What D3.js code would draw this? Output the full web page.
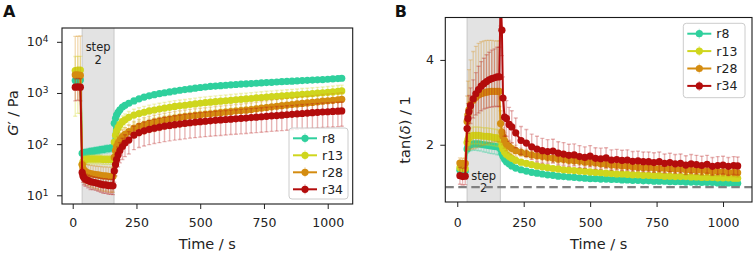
<!DOCTYPE html>
<html>
<head>
<meta charset="utf-8">
<script src="https://cdn.jsdelivr.net/npm/d3@7"></script>
<style>
  body { margin: 0; background: #fff; }
  svg { display: block; font-family: "DejaVu Sans", sans-serif; }
</style>
</head>
<body>
<svg id="chart" width="754" height="254"></svg>
<script>
// sample times (s), shared by every series
const time = [
  10, 20, 30,
  37, 40, 44, 50, 60, 70, 80, 90, 100, 110, 120, 130, 140, 150, 158,
  163, 168, 172, 178, 185, 195, 205, 220,
  240, 260, 280, 300, 320, 340, 360, 380, 400, 420,
  440, 460, 480, 500, 520, 540, 560, 580, 600, 620,
  640, 660, 680, 700, 720, 740, 760, 780, 800, 820,
  840, 860, 880, 900, 920, 940, 960, 980, 1000, 1020,
  1040, 1055
];

const seriesNames = ["r8", "r13", "r28", "r34"];
const seriesColors = ["#2fd09d", "#cfd61d", "#d48c10", "#b30c0c"];

// panel A: G' / Pa
const gR8 = [
  1750, 1780, 1800,
  66, 67, 68, 69, 70, 72, 73, 75, 76, 78, 79, 81, 82, 84, 86,
  255, 320, 370, 420, 470, 530, 575, 630,
  700, 770, 830, 880, 925, 970, 1010, 1050, 1090, 1130,
  1165, 1200, 1240, 1280, 1310, 1340, 1365, 1390, 1415, 1440,
  1465, 1490, 1510, 1530, 1550, 1575, 1595, 1615, 1640, 1660,
  1680, 1700, 1720, 1745, 1765, 1790, 1810, 1830, 1855, 1880,
  1910, 1940
];
const gR8Err = [
  300, 300, 300,
  10, 10, 11, 11, 12, 12, 12, 13, 13, 13, 13, 14, 14, 14, 14,
  20, 25, 30, 35, 40, 45, 50, 55,
  56, 60, 65, 70, 72, 76, 80, 82, 85, 88,
  90, 93, 96, 100, 102, 104, 106, 108, 110, 112,
  114, 116, 118, 120, 121, 123, 124, 126, 128, 130,
  131, 133, 134, 136, 138, 140, 141, 143, 145, 147,
  149, 151
];
const gR13 = [
  2750, 2800, 2800,
  40, 45, 48, 50, 51, 51, 51, 51, 51, 51, 50, 50, 50, 50, 50,
  110, 150, 180, 210, 240, 275, 300, 335,
  370, 395, 420, 445, 465, 485, 505, 525, 545, 560,
  575, 595, 610, 630, 645, 660, 675, 690, 705, 720,
  735, 750, 765, 780, 800, 815, 830, 845, 860, 875,
  890, 905, 920, 940, 955, 970, 990, 1010, 1030, 1050,
  1075, 1095
];
const gR13Err = [
  2400, 2400, 2400,
  8, 9, 10, 10, 10, 10, 10, 10, 10, 10, 10, 10, 10, 10, 10,
  33, 45, 54, 63, 72, 82, 90, 100,
  111, 118, 126, 133, 140, 145, 151, 157, 163, 168,
  172, 178, 183, 189, 193, 198, 202, 207, 211, 216,
  220, 225, 230, 234, 240, 244, 249, 253, 258, 262,
  267, 271, 276, 282, 286, 291, 297, 303, 309, 315,
  322, 328
];
const gR28 = [
  2250, 2250, 2200,
  40, 34, 31, 29, 27.5, 26.5, 26, 25.5, 25, 24.5, 24, 24, 23.5, 23.5, 23.5,
  55, 75, 90, 105, 120, 140, 155, 175,
  205, 225, 242, 258, 272, 285, 298, 310, 322, 333,
  344, 355, 364, 372, 382, 392, 402, 412, 422, 432,
  442, 452, 462, 475, 490, 505, 520, 535, 550, 565,
  580, 595, 610, 625, 640, 655, 670, 690, 705, 720,
  735, 750
];
const gR28Err = [
  10500, 10600, 10800,
  14, 13, 13, 12, 12, 12, 12, 12, 12, 12, 12, 12, 12, 12, 12,
  19, 26, 31, 37, 42, 49, 54, 61,
  72, 79, 85, 90, 95, 100, 104, 108, 113, 117,
  120, 124, 127, 130, 134, 137, 141, 144, 148, 151,
  155, 158, 162, 166, 171, 177, 182, 187, 192, 198,
  203, 208, 213, 219, 224, 229, 234, 241, 247, 252,
  257, 262
];
const gR34 = [
  1300, 1320, 1300,
  28, 24, 22, 20.5, 19.5, 18.5, 18, 17.5, 17, 16.5, 16, 16, 15.5, 15.5, 15.3,
  30, 40, 50, 62, 75, 90, 105, 120,
  150, 168, 182, 195, 205, 215, 224, 232, 240, 247,
  254, 262, 268, 275, 280, 286, 292, 297, 303, 308,
  313, 318, 323, 330, 336, 343, 350, 356, 362, 368,
  375, 382, 390, 397, 404, 412, 418, 425, 430, 435,
  440, 445
];
const gR34Err = [
  600, 600, 600,
  6, 6, 6, 5.5, 5.5, 5.5, 5, 5, 5, 5, 5, 5, 5, 5, 5,
  12, 16, 20, 26, 32, 40, 48, 56,
  72, 82, 90, 97, 102, 108, 112, 116, 120, 124,
  127, 131, 134, 138, 140, 143, 146, 149, 152, 154,
  157, 159, 162, 165, 168, 172, 175, 178, 181, 184,
  188, 191, 195, 199, 202, 206, 209, 213, 215, 218,
  220, 222
];

// panel B: tan(delta) / 1
const tanR8 = [
  1.40, 1.38, 1.38,
  1.9, 1.95, 1.98, 2.0, 2.02, 2.02, 2.02, 2.01, 2.0, 1.99, 1.98, 1.97, 1.96, 1.95, 1.95,
  1.9, 1.8, 1.73, 1.66, 1.6, 1.55, 1.5, 1.45,
  1.41, 1.38, 1.35, 1.33, 1.31, 1.29, 1.28, 1.26, 1.25, 1.24,
  1.23, 1.22, 1.21, 1.2, 1.2, 1.19, 1.19, 1.18, 1.18, 1.17,
  1.17, 1.16, 1.16, 1.15, 1.15, 1.14, 1.14, 1.14, 1.13, 1.13,
  1.13, 1.12, 1.12, 1.12, 1.11, 1.11, 1.11, 1.1, 1.1, 1.1,
  1.09, 1.09
];
const tanR8Err = [
  0.05, 0.05, 0.05,
  0.1, 0.12, 0.13, 0.14, 0.15, 0.15, 0.16, 0.16, 0.17, 0.17, 0.18, 0.18, 0.18, 0.19, 0.19,
  0.1, 0.09, 0.08, 0.07, 0.07, 0.06, 0.06, 0.05,
  0.05, 0.05, 0.05, 0.05, 0.05, 0.05, 0.05, 0.05, 0.05, 0.05,
  0.05, 0.05, 0.05, 0.05, 0.05, 0.05, 0.05, 0.05, 0.05, 0.05,
  0.05, 0.05, 0.05, 0.05, 0.05, 0.05, 0.05, 0.05, 0.05, 0.05,
  0.05, 0.05, 0.05, 0.05, 0.05, 0.05, 0.05, 0.05, 0.05, 0.05,
  0.05, 0.05
];
const tanR13 = [
  1.46, 1.44, 1.44,
  2.05, 2.12, 2.16, 2.2, 2.22, 2.22, 2.22, 2.21, 2.2, 2.2, 2.19, 2.18, 2.17, 2.16, 2.15,
  2.1, 1.98, 1.9, 1.83, 1.77, 1.72, 1.68, 1.63,
  1.59, 1.56, 1.53, 1.5, 1.48, 1.46, 1.44, 1.43, 1.41, 1.4,
  1.39, 1.38, 1.37, 1.36, 1.35, 1.34, 1.33, 1.32, 1.31, 1.31,
  1.3, 1.29, 1.29, 1.28, 1.28, 1.27, 1.27, 1.26, 1.26, 1.25,
  1.25, 1.25, 1.24, 1.24, 1.23, 1.23, 1.23, 1.22, 1.22, 1.22,
  1.21, 1.21
];
const tanR13Err = [
  0.08, 0.08, 0.08,
  0.15, 0.17, 0.18, 0.19, 0.2, 0.2, 0.2, 0.2, 0.2, 0.2, 0.2, 0.2, 0.2, 0.2, 0.2,
  0.12, 0.11, 0.1, 0.09, 0.08, 0.08, 0.07, 0.07,
  0.06, 0.06, 0.06, 0.06, 0.06, 0.06, 0.06, 0.06, 0.06, 0.06,
  0.06, 0.06, 0.06, 0.06, 0.06, 0.06, 0.06, 0.06, 0.06, 0.06,
  0.06, 0.06, 0.06, 0.06, 0.06, 0.06, 0.06, 0.06, 0.06, 0.06,
  0.06, 0.06, 0.06, 0.06, 0.06, 0.06, 0.06, 0.06, 0.06, 0.06,
  0.06, 0.06
];
const tanR28 = [
  1.57, 1.56, 1.56,
  2.55, 2.7, 2.82, 2.95, 3.05, 3.12, 3.17, 3.2, 3.22, 3.24, 3.25, 3.26, 3.26, 3.26, 3.26,
  2.5, 2.3, 2.2, 2.1, 2.02, 1.96, 1.91, 1.86,
  1.82, 1.79, 1.76, 1.74, 1.72, 1.70, 1.68, 1.66, 1.65, 1.63,
  1.62, 1.61, 1.59, 1.58, 1.57, 1.55, 1.54, 1.52, 1.51, 1.5,
  1.49, 1.48, 1.47, 1.46, 1.46, 1.45, 1.44, 1.44, 1.43, 1.42,
  1.42, 1.41, 1.4, 1.4, 1.39, 1.38, 1.37, 1.37, 1.36, 1.35,
  1.35, 1.34
];
const tanR28Err = [
  0.12, 0.12, 0.12,
  0.6, 0.8, 0.95, 1.05, 1.15, 1.2, 1.22, 1.23, 1.23, 1.22, 1.21, 1.2, 1.19, 1.19, 1.19,
  0.3, 0.25, 0.2, 0.18, 0.16, 0.15, 0.14, 0.13,
  0.1, 0.1, 0.1, 0.1, 0.1, 0.1, 0.1, 0.1, 0.1, 0.1,
  0.1, 0.1, 0.1, 0.1, 0.1, 0.1, 0.1, 0.1, 0.1, 0.1,
  0.1, 0.1, 0.1, 0.1, 0.1, 0.1, 0.1, 0.1, 0.1, 0.1,
  0.1, 0.1, 0.1, 0.1, 0.1, 0.1, 0.1, 0.1, 0.1, 0.1,
  0.1, 0.1
];
const tanR34 = [
  1.27, 1.25, 1.26,
  2.38, 2.62, 2.78, 2.92, 3.08, 3.2, 3.3, 3.38, 3.44, 3.49, 3.53, 3.56, 3.58, 3.6, 3.6,
  5.4, 4.7, 3.1, 2.65, 2.62, 2.48, 2.42, 2.28,
  2.1, 2.04, 1.95, 1.9, 1.86, 1.84, 1.85, 1.8, 1.78, 1.75,
  1.76, 1.72, 1.7, 1.73, 1.68, 1.67, 1.69, 1.64, 1.65, 1.63,
  1.64, 1.61, 1.62, 1.6, 1.6, 1.58, 1.6, 1.56, 1.58, 1.55,
  1.56, 1.52, 1.55, 1.53, 1.51, 1.54, 1.49, 1.51, 1.52, 1.49,
  1.51, 1.5
];
const tanR34Err = [
  0.2, 0.2, 0.2,
  0.3, 0.35, 0.38, 0.42, 0.45, 0.5, 0.55, 0.58, 0.6, 0.63, 0.65, 0.67, 0.68, 0.7, 0.7,
  0.6, 0.6, 0.5, 0.45, 0.42, 0.4, 0.38, 0.35,
  0.33, 0.32, 0.3, 0.3, 0.29, 0.28, 0.28, 0.27, 0.27, 0.26,
  0.26, 0.26, 0.25, 0.25, 0.25, 0.25, 0.24, 0.24, 0.24, 0.24,
  0.24, 0.23, 0.23, 0.23, 0.23, 0.23, 0.23, 0.22, 0.22, 0.22,
  0.22, 0.22, 0.22, 0.22, 0.22, 0.21, 0.21, 0.21, 0.21, 0.21,
  0.21, 0.21
];

const stepSpan = [37, 162];
const xTicks = [0, 250, 500, 750, 1000];
const yTicksA = [10, 100, 1000, 10000];
const yTicksB = [2, 4];

const svg = d3.select("#chart");

function drawPanel(p) {
  const x = d3.scaleLinear().domain(p.xDomain).range([p.left, p.right]);
  const y = p.y.range([p.bottom, p.top]);

  svg.append("clipPath").attr("id", "clip" + p.id)
    .append("rect")
    .attr("x", p.left).attr("y", p.top)
    .attr("width", p.right - p.left).attr("height", p.bottom - p.top);

  const plot = svg.append("g").attr("clip-path", `url(#clip${p.id})`);

  // grey "step 2" band
  plot.append("rect")
    .attr("x", x(stepSpan[0])).attr("width", x(stepSpan[1]) - x(stepSpan[0]))
    .attr("y", p.top - 2).attr("height", p.bottom - p.top + 4)
    .attr("fill", "#e3e3e3").attr("stroke", "#c8c8c8").attr("stroke-width", 1);

  const sx = x((stepSpan[0] + stepSpan[1]) / 2);
  const st = plot.append("text").attr("text-anchor", "middle")
    .attr("font-size", 11.5).attr("fill", "#222");
  st.append("tspan").attr("x", sx).attr("y", y(p.stepLabelY)).text("step");
  st.append("tspan").attr("x", sx).attr("dy", 12.8).text("2");

  p.series.forEach(s => {
    const eg = plot.append("g")
      .attr("stroke", s.color).attr("stroke-opacity", 0.3).attr("stroke-width", 1.4);
    time.forEach((t, i) => {
      const v = s.values[i], e = s.errors[i];
      const hasLo = !(p.log && v - e <= 0);
      const xi = x(t), yHi = y(v + e), yLo = hasLo ? y(v - e) : y(v);
      eg.append("line").attr("x1", xi).attr("x2", xi).attr("y1", yLo).attr("y2", yHi);
      eg.append("line").attr("x1", xi - 2).attr("x2", xi + 2).attr("y1", yHi).attr("y2", yHi);
      if (hasLo) eg.append("line").attr("x1", xi - 2).attr("x2", xi + 2).attr("y1", yLo).attr("y2", yLo);
    });

    plot.append("path")
      .datum(s.values)
      .attr("fill", "none").attr("stroke", s.color).attr("stroke-width", 2)
      .attr("d", d3.line().x((d, i) => x(time[i])).y(d => y(d)));

    plot.append("g").selectAll("circle")
      .data(s.values)
      .join("circle")
      .attr("cx", (d, i) => x(time[i])).attr("cy", d => y(d))
      .attr("r", 3.6).attr("fill", s.color);
  });

  if (p.refLine !== undefined) {
    plot.append("line")
      .attr("x1", p.left).attr("x2", p.right)
      .attr("y1", y(p.refLine)).attr("y2", y(p.refLine))
      .attr("stroke", "#808080").attr("stroke-width", 2.2)
      .attr("stroke-dasharray", "8.5,4.5");
  }

  // axes
  const xa = svg.append("g").attr("transform", `translate(0,${p.bottom})`)
    .call(d3.axisBottom(x).tickValues(xTicks).tickSize(5).tickFormat(d3.format("d")));
  xa.select(".domain").remove();
  xa.selectAll("line").attr("stroke", "#222");
  xa.selectAll("text")
    .attr("font-family", "DejaVu Sans").attr("font-size", 12.5).attr("fill", "#222")
    .attr("dy", null).attr("y", 226.7 - p.bottom);

  const ya = svg.append("g").attr("transform", `translate(${p.left},0)`)
    .call(d3.axisLeft(y).tickValues(p.yTicks).tickSize(5));
  ya.select(".domain").remove();
  ya.selectAll("line").attr("stroke", "#222");
  ya.selectAll("text")
    .attr("font-family", "DejaVu Sans").attr("font-size", 12.5).attr("fill", "#222")
    .attr("x", p.yLabelX - p.left);
  if (p.log) {
    ya.selectAll("text").each(function(d) {
      const t = d3.select(this).text("10");
      t.append("tspan").attr("dy", "-0.45em").attr("font-size", 9)
        .text(Math.round(Math.log10(d)));
    });
  } else {
    ya.selectAll("text").text(d => d);
  }

  svg.append("rect")
    .attr("x", p.left).attr("y", p.top)
    .attr("width", p.right - p.left).attr("height", p.bottom - p.top)
    .attr("fill", "none").attr("stroke", "#1a1a1a").attr("stroke-width", 1.1);

  svg.append("text")
    .attr("x", (p.left + p.right) / 2).attr("y", 249)
    .attr("text-anchor", "middle").attr("font-size", 14.5).attr("fill", "#222")
    .text("Time / s");

  const yl = svg.append("text")
    .attr("transform", `translate(${p.titleX},${p.titleY}) rotate(-90)`)
    .attr("text-anchor", "middle").attr("font-size", 14.5).attr("fill", "#222");
  p.title(yl);

  svg.append("text")
    .attr("x", p.letterX).attr("y", 17.3)
    .attr("font-size", 16).attr("font-weight", "bold").attr("fill", "#111")
    .text(p.id);

  // legend
  const lg = svg.append("g");
  lg.append("rect")
    .attr("x", p.legend.x).attr("y", p.legend.y)
    .attr("width", p.legend.w).attr("height", p.legend.h)
    .attr("rx", 3).attr("fill", "#fff").attr("fill-opacity", 0.8)
    .attr("stroke", "#cccccc").attr("stroke-width", 1);
  p.series.forEach((s, i) => {
    const cy = p.legend.y + p.legend.first + i * p.legend.step;
    const lx = p.legend.x + 4;
    lg.append("line").attr("x1", lx + 12).attr("x2", lx + 12).attr("y1", cy - 5).attr("y2", cy + 5)
      .attr("stroke", s.color).attr("stroke-opacity", 0.3).attr("stroke-width", 1.4);
    lg.append("line").attr("x1", lx).attr("x2", lx + 24).attr("y1", cy).attr("y2", cy)
      .attr("stroke", s.color).attr("stroke-width", 2);
    lg.append("circle").attr("cx", lx + 12).attr("cy", cy).attr("r", 3.6).attr("fill", s.color);
    lg.append("text").attr("x", lx + 29).attr("y", cy + 4.5)
      .attr("font-size", 12.5).attr("fill", "#222").text(s.name);
  });
}

const seriesA = [
  { values: gR8, errors: gR8Err },
  { values: gR13, errors: gR13Err },
  { values: gR28, errors: gR28Err },
  { values: gR34, errors: gR34Err }
].map((s, i) => ({ ...s, name: seriesNames[i], color: seriesColors[i] }));

const seriesB = [
  { values: tanR8, errors: tanR8Err },
  { values: tanR13, errors: tanR13Err },
  { values: tanR28, errors: tanR28Err },
  { values: tanR34, errors: tanR34Err }
].map((s, i) => ({ ...s, name: seriesNames[i], color: seriesColors[i] }));

drawPanel({
  id: "A", left: 62, right: 352.7, top: 28, bottom: 204,
  xDomain: [-42, 1098],
  y: d3.scaleLog().domain([Math.pow(10, 0.83), Math.pow(10, 4.27)]),
  log: true, yTicks: yTicksA, yLabelX: 48.5,
  stepLabelY: 6700,
  series: seriesA,
  titleX: 17.5, titleY: 113,
  title: t => { t.append("tspan").attr("font-style", "italic").text("G"); t.append("tspan").text("\u2032 / Pa"); },
  letterX: 3,
  legend: { x: 289, y: 128, w: 59, h: 71, first: 10.3, step: 17 }
});

drawPanel({
  id: "B", left: 445.3, right: 752, top: 17.5, bottom: 202,
  xDomain: [-45, 1109],
  y: d3.scaleLinear().domain([0.65, 5]),
  log: false, yTicks: yTicksB, yLabelX: 434,
  stepLabelY: 1.18,
  refLine: 1,
  series: seriesB,
  titleX: 410, titleY: 130,
  title: t => { t.append("tspan").text("tan("); t.append("tspan").attr("font-style", "italic").text("\u03b4"); t.append("tspan").text(") / 1"); },
  letterX: 394.7,
  legend: { x: 683.3, y: 23.3, w: 61.7, h: 74.4, first: 10.4, step: 17.4 }
});
</script>
</body>
</html>
